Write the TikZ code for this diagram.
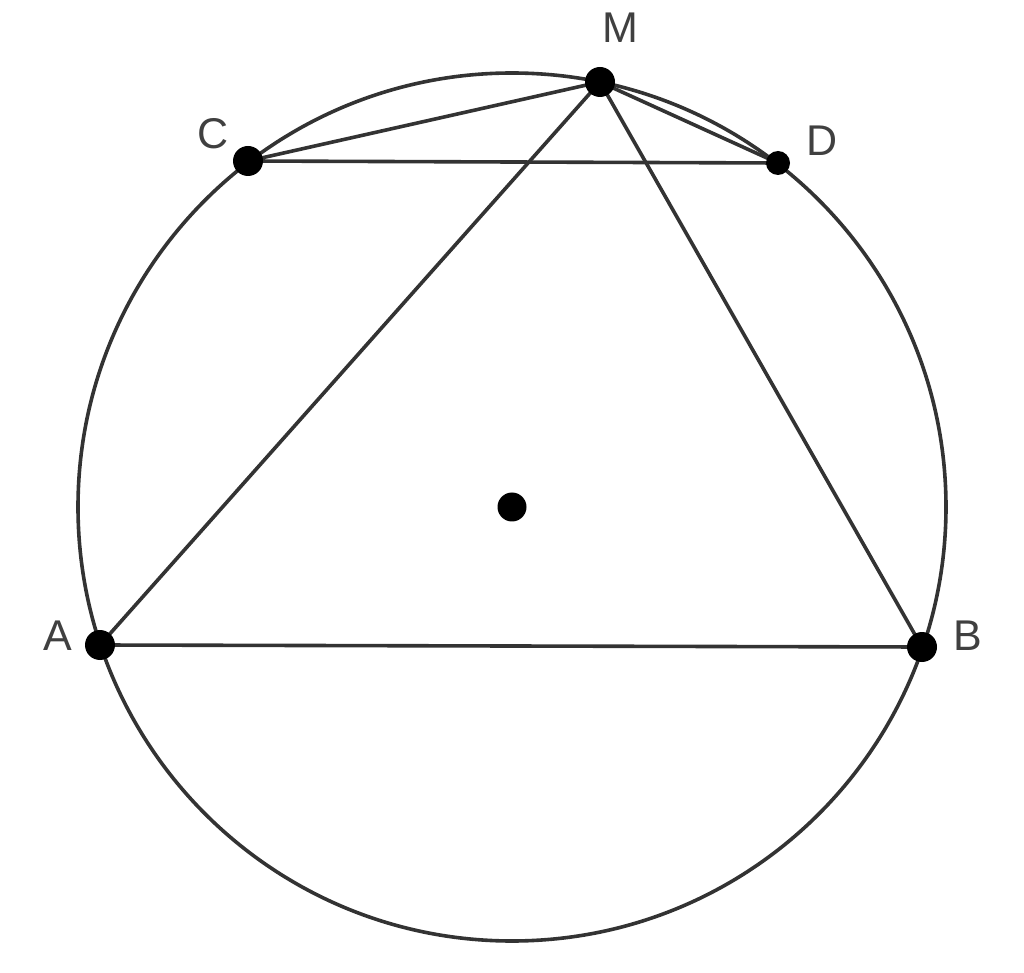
\documentclass[tikz,border=0pt]{standalone}
\usepackage{fontspec}
\setmainfont{Liberation Sans}
\begin{document}
\begin{tikzpicture}[x=0.5pt,y=-0.5pt,
  edge/.style={draw=black!80, line width=1.8pt},
  dot/.style={circle, fill=black, inner sep=0pt, minimum size=#1},
  lbl/.style={text=black!75, font=\fontsize{21.5}{24}\selectfont, inner sep=0pt}]
\useasboundingbox (0,0) rectangle (1024,973);
\coordinate (O) at (512,507);
\coordinate (M) at (600,82);
\coordinate (C) at (248,161);
\coordinate (D) at (778,163);
\coordinate (A) at (100,645);
\coordinate (B) at (922,647);
\draw[edge] (O) circle [radius=434];
\draw[edge] (A) -- (B) -- (M) -- (A);
\draw[edge] (C) -- (D) -- (M) -- (C);
\node[dot=30pt*0.5] (dM) at (M) {};
\node[dot=30pt*0.5] (dC) at (C) {};
\node[dot=24pt*0.5] (dD) at (D) {};
\node[dot=30pt*0.5] (dA) at (A) {};
\node[dot=30pt*0.5] (dB) at (B) {};
\node[dot=29pt*0.5] (dO) at (O) {};
\node[lbl] (lM) at (620,28) {M};
\node[lbl] (lC) at (213,134) {C};
\node[lbl] (lD) at (822,141) {D};
\node[lbl] (lA) at (58,636) {A};
\node[lbl] (lB) at (968,636) {B};
\end{tikzpicture}
\end{document}
